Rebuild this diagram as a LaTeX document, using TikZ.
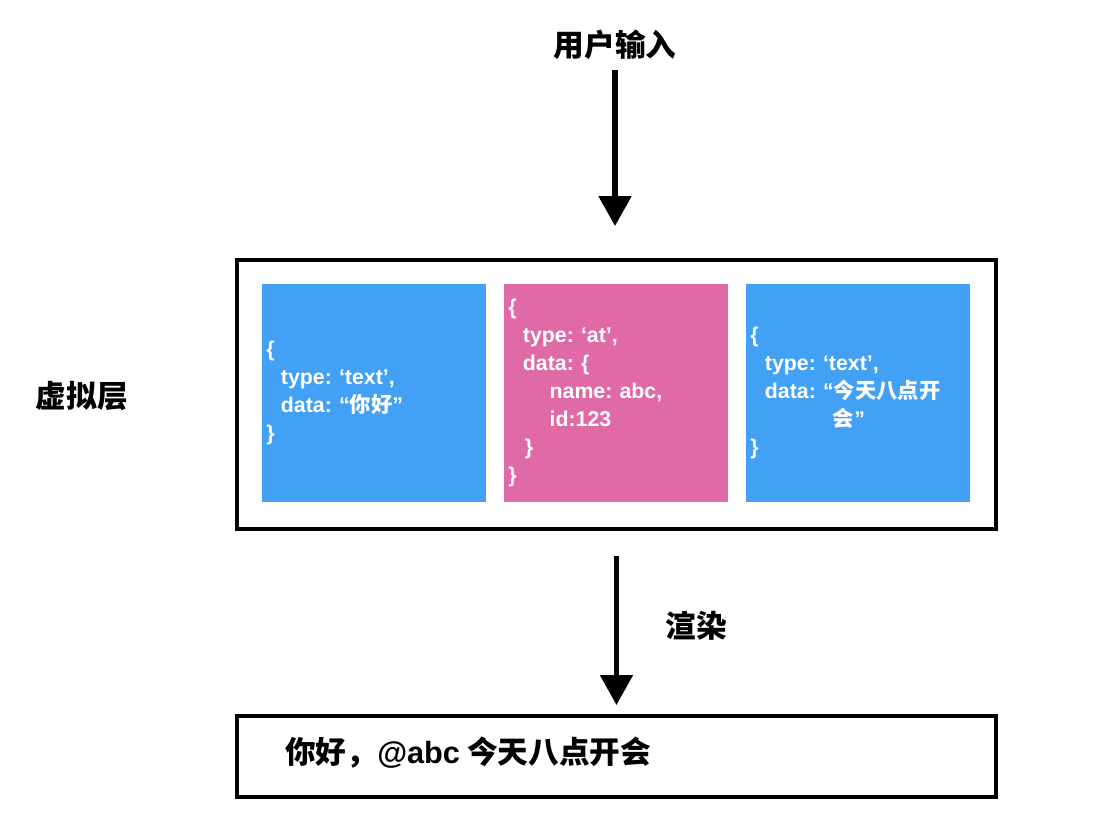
\documentclass[tikz,border=0pt]{standalone}
\usepackage{fontspec}
\setmainfont{Liberation Sans}
\newfontfamily\cjk{Noto Sans CJK SC}
\newcommand\zh[1]{{\cjk #1}}
\usetikzlibrary{arrows.meta}
\definecolor{boxblue}{RGB}{66,160,245}
\definecolor{boxpink}{RGB}{224,106,166}
\frenchspacing
\begin{document}
\begin{tikzpicture}[x=0.75pt,y=-0.75pt,
  frame/.style={draw=black,line width=3.2pt,inner sep=0pt,anchor=north west},
  jsonbox/.style={fill=#1,draw=none,text=white,anchor=north west,
    minimum height=163.5pt,text width=162pt,inner xsep=3pt,inner ysep=0pt,
    align=left,font=\fontsize{16}{21}\selectfont\bfseries\frenchspacing},
  biglabel/.style={inner sep=0pt,font=\fontsize{23}{28}\selectfont\bfseries\cjk},
  bigarrow/.style={line width=3.9pt,-{Triangle[width=24pt,length=22.5pt]}}
]
\useasboundingbox (0,0) rectangle (1098,824);

% labels
\node[biglabel] (title) at (615,45) {用户输入};
\node[biglabel] (layer) at (82,396) {虚拟层};

% virtual layer frame
\node[frame,minimum width=569pt,minimum height=201.75pt] (virt) at (235,258) {};

% json boxes
\node[jsonbox=boxblue] (b1) at (262,284) {%
\{\\
\hspace*{11pt}type: ‘text’,\\
\hspace*{11pt}data: “\zh{你好}”\\
\}};
\node[jsonbox=boxpink] (b2) at (504,284) {%
\{\\
\hspace*{11pt}type: ‘at’,\\
\hspace*{11pt}data: \{\\
\hspace*{31pt}name: abc,\\
\hspace*{31pt}id:123\\
\hspace*{12.5pt}\}\\
\}};
\node[jsonbox=boxblue] (b3) at (746,284) {%
\{\\
\hspace*{11pt}type: ‘text’,\\
\hspace*{11pt}data: “\zh{今天八点开}\\
\hspace*{62pt}\zh{会}”\\
\}};

% output frame
\node[frame,minimum width=569pt,minimum height=60.75pt] (out) at (235,714) {};
\node[biglabel,anchor=west] (result) at (285,753) {你好，{\fontspec{Liberation Sans}\bfseries @abc} 今天八点开会};

% arrows
\draw[bigarrow,shorten <=7.5pt,shorten >=24pt] (title.south) -- (title.south |- virt.north);
\draw[bigarrow,shorten <=18.75pt,shorten >=6.75pt] (virt.south) -- (out.north);
\node[biglabel] (render) at (696,626) {渲染};
\end{tikzpicture}
\end{document}
